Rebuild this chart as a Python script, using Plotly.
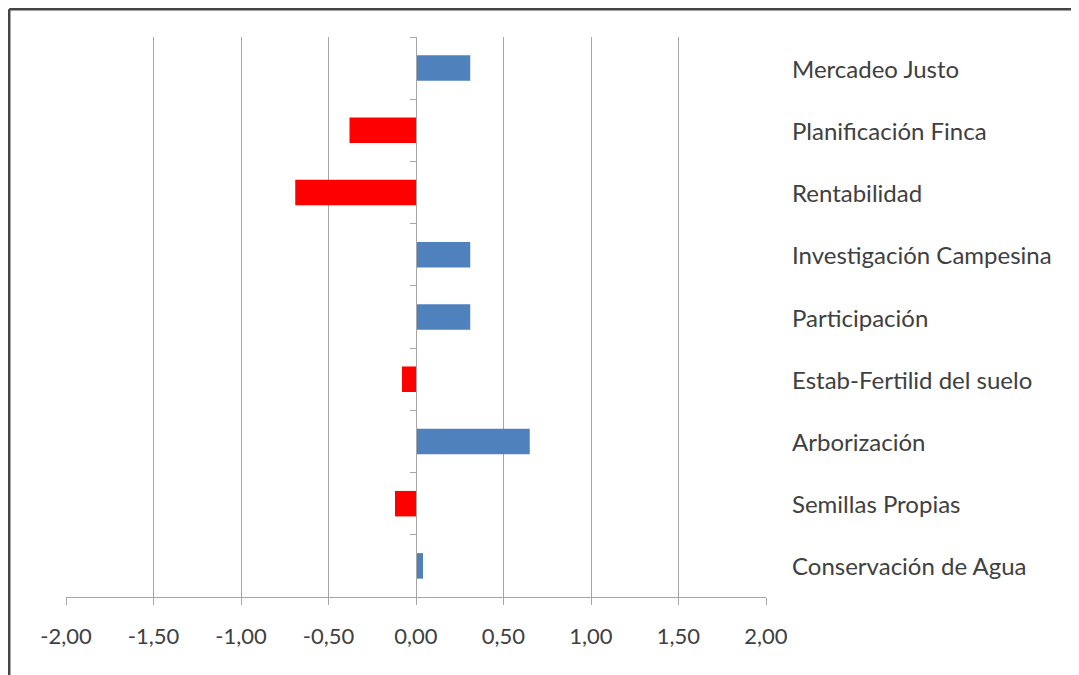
import plotly.graph_objects as go

categories = ["Mercadeo Justo", "Planificación Finca", "Rentabilidad",
              "Investigación Campesina", "Participación", "Estab-Fertilid del suelo",
              "Arborización", "Semillas Propias", "Conservación de Agua"]
values = [0.31, -0.38, -0.69, 0.31, 0.31, -0.08, 0.65, -0.12, 0.04]
x_ticks = [-2.0, -1.5, -1.0, -0.5, 0.0, 0.5, 1.0, 1.5, 2.0]
x_tick_labels = [f"{v:.2f}".replace(".", ",") for v in x_ticks]

BLUE = "#4F81BD"
RED = "#FF0000"
colors = [BLUE if v >= 0 else RED for v in values]
FONT = "Lato, 'Open Sans', sans-serif"
TEXT = "#404040"
GRID = "#a6a6a6"

fig = go.Figure()
fig.add_trace(go.Bar(
    x=values, y=categories, orientation="h",
    marker=dict(color=colors, line=dict(width=0)),
    hoverinfo="x+y", showlegend=False,
))

fig.update_layout(
    width=1071, height=667,
    margin=dict(l=58, r=313, t=29, b=78),
    paper_bgcolor="white", plot_bgcolor="white",
    separators=",.",
    bargap=0.59,
    font=dict(family=FONT, size=18, color=TEXT),
    xaxis=dict(
        range=[-2, 2], tickvals=x_ticks, ticktext=x_tick_labels,
        showgrid=True, gridcolor=GRID, gridwidth=1.3,
        zeroline=False, showline=True, linecolor=GRID, linewidth=1.3,
        ticks="outside", ticklen=7, tickcolor=GRID,
        tickfont=dict(size=22, color=TEXT, family=FONT),
        ticklabelstandoff=12,
    ),
    yaxis=dict(
        type="category", categoryorder="array", categoryarray=categories[::-1],
        range=[-0.5, len(categories) - 0.5],
        anchor="free", position=0.5,
        showgrid=False, zeroline=False,
        showline=True, linecolor=GRID, linewidth=1.3,
        ticks="outside", ticklen=6, tickcolor=GRID, tickson="boundaries",
        showticklabels=False,
    ),
)

for c in categories:
    fig.add_annotation(
        x=1.034, xref="paper", y=c, yref="y",
        text=c, showarrow=False, xanchor="left", yanchor="middle",
        font=dict(family=FONT, size=24, color=TEXT),
    )

# frame (top and left edges)
fig.add_shape(type="line", xref="paper", yref="paper",
              x0=-0.0811, x1=1.5, y0=1.0496, y1=1.0496,
              line=dict(color="#454545", width=2.5))
fig.add_shape(type="line", xref="paper", yref="paper",
              x0=-0.0811, x1=-0.0811, y0=-0.2, y1=1.0496,
              line=dict(color="#454545", width=2.5))

fig.write_html("out.html")
